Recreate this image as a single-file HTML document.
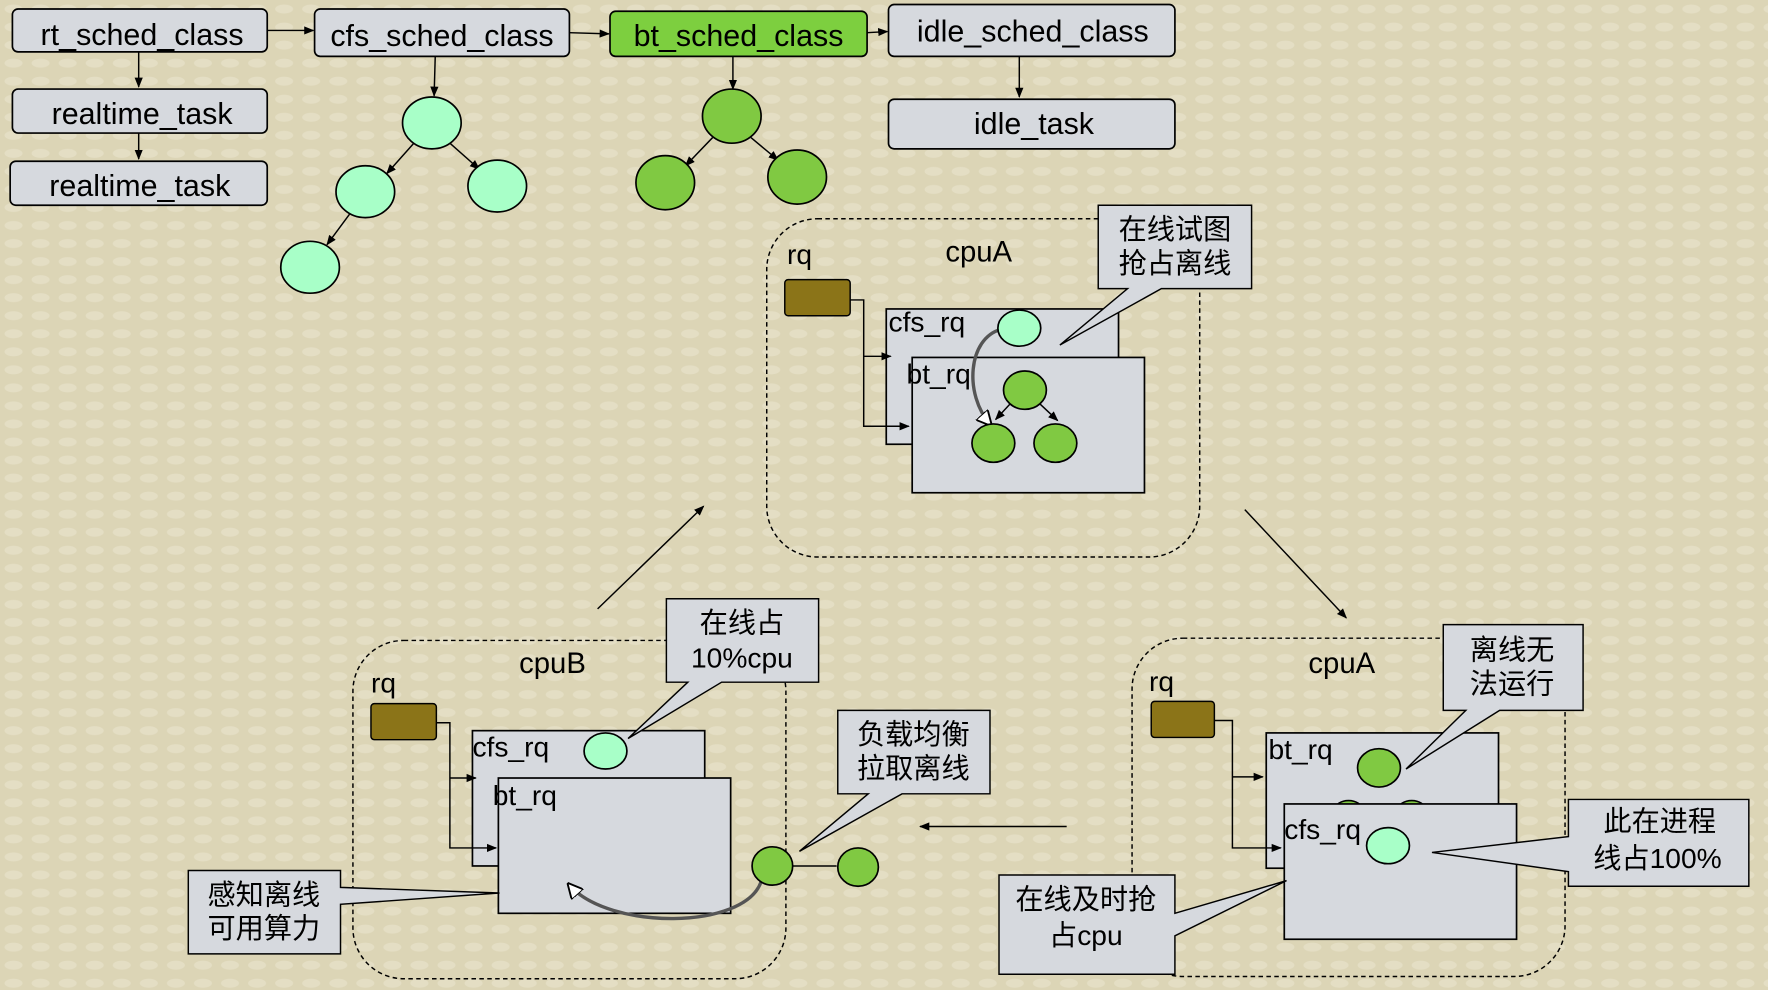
<!DOCTYPE html>
<html><head><meta charset="utf-8"><style>
html,body{margin:0;padding:0;background:#ddd6b8;}
svg{display:block}
text{font-family:"Liberation Sans","Noto Sans CJK SC",sans-serif;fill:#000}
</style></head><body>
<svg width="1768" height="990" viewBox="0 0 1568 878" xmlns="http://www.w3.org/2000/svg">
<defs>
<marker id="a" viewBox="0 0 10 10" refX="9" refY="5" markerWidth="7" markerHeight="7" orient="auto-start-reverse"><path d="M0,1 L10,5 L0,9 z" fill="#000"/></marker>
<marker id="b" viewBox="0 0 10 10" refX="8" refY="5" markerWidth="14" markerHeight="14" markerUnits="userSpaceOnUse" orient="auto"><path d="M0,0 L10,5 L0,10 z" fill="#fff" stroke="#000" stroke-width="1.2"/></marker>
<pattern id="bg" width="24" height="16" patternUnits="userSpaceOnUse"><rect width="24" height="16" fill="#dcd5b6"/><ellipse cx="12" cy="8" rx="8" ry="4" fill="#e4dec4"/></pattern>
</defs>
<rect width="1568" height="878" fill="url(#bg)"/>
<g stroke="#000" stroke-width="1.5" fill="#d6d9de">
<rect x="11" y="8" width="226" height="38" rx="5"/>
<rect x="279" y="8" width="226" height="42" rx="5"/>
<rect x="541" y="10" width="228" height="40" rx="5" fill="#7dcf3f"/>
<rect x="788" y="4" width="254" height="46" rx="5"/>
<rect x="11" y="79" width="226" height="39" rx="5"/>
<rect x="9" y="143" width="228" height="39" rx="5"/>
<rect x="788" y="88" width="254" height="44" rx="5"/>
</g>
<g font-size="27" text-anchor="middle">
<text x="126" y="40">rt_sched_class</text>
<text x="392" y="41">cfs_sched_class</text>
<text x="655" y="41">bt_sched_class</text>
<text x="916" y="37">idle_sched_class</text>
<text x="126" y="110">realtime_task</text>
<text x="124" y="174">realtime_task</text>
<text x="917" y="119">idle_task</text>
</g>
<g stroke="#000" stroke-width="1.3" fill="none" marker-end="url(#a)">
<line x1="237" y1="27" x2="278" y2="27"/>
<line x1="505" y1="29" x2="540" y2="30"/>
<line x1="769" y1="29" x2="787" y2="28"/>
<line x1="123" y1="46" x2="123" y2="77"/>
<line x1="123" y1="118" x2="123" y2="141"/>
<line x1="386" y1="50" x2="385" y2="85"/>
<line x1="650" y1="50" x2="650" y2="79"/>
<line x1="904" y1="50" x2="904" y2="86"/>
<line x1="367" y1="127" x2="343" y2="154"/>
<line x1="399" y1="127" x2="425" y2="150"/>
<line x1="310" y1="190" x2="290" y2="217"/>
<line x1="632" y1="122" x2="608" y2="147"/>
<line x1="666" y1="122" x2="690" y2="142"/>
<line x1="530" y1="540" x2="624" y2="449"/>
<line x1="1104" y1="452" x2="1194" y2="548"/>
<line x1="946" y1="733" x2="816" y2="733"/>
</g>
<g stroke="#000" stroke-width="1.5">
<ellipse cx="383" cy="109" rx="26" ry="23" fill="#a8ffc8"/>
<ellipse cx="324" cy="170" rx="26" ry="23" fill="#a8ffc8"/>
<ellipse cx="441" cy="165" rx="26" ry="23" fill="#a8ffc8"/>
<ellipse cx="275" cy="237" rx="26" ry="23" fill="#a8ffc8"/>
<ellipse cx="649" cy="103" rx="26" ry="24" fill="#80c942"/>
<ellipse cx="590" cy="162" rx="26" ry="24" fill="#80c942"/>
<ellipse cx="707" cy="157" rx="26" ry="24" fill="#80c942"/>
</g>
<g fill="none" stroke="#000" stroke-width="1.3" stroke-dasharray="4,3">
<rect x="680" y="194" width="384" height="300" rx="45"/>
<rect x="313" y="568" width="384" height="300" rx="45"/>
<rect x="1004" y="566" width="384" height="300" rx="45"/>
</g>
<g font-size="26" text-anchor="middle">
<text x="868" y="232">cpuA</text>
<text x="490" y="597">cpuB</text>
<text x="1190" y="597">cpuA</text>
</g>
<g font-size="25">
<text x="698" y="234">rq</text>
<text x="329" y="614">rq</text>
<text x="1019" y="613">rq</text>
</g>
<g stroke="#000" stroke-width="1.3" fill="#8b7418">
<rect x="696" y="248" width="58" height="32" rx="3"/>
<rect x="329" y="624" width="58" height="32" rx="3"/>
<rect x="1021" y="622" width="56" height="32" rx="3"/>
</g>
<g stroke="#000" stroke-width="1.5" fill="#d6d9de">
<rect x="786" y="274" width="206" height="120"/>
<rect x="809" y="317" width="206" height="120"/>
</g>
<g fill="none" stroke="#000" stroke-width="1.3">
<polyline points="754,266 766,266 766,378 806,378" marker-end="url(#a)"/>
<polyline points="766,316 790,316" marker-end="url(#a)"/>
<line x1="897" y1="357" x2="883" y2="372" marker-end="url(#a)"/>
<line x1="921" y1="357" x2="938" y2="373" marker-end="url(#a)"/>
<path d="M888,292 C858,300 855,350 878,376" stroke="#555" stroke-width="3" marker-end="url(#b)"/>
</g>
<g font-size="25"><text x="788" y="294">cfs_rq</text><text x="804" y="340">bt_rq</text></g>
<g stroke="#000" stroke-width="1.5">
<ellipse cx="904" cy="291" rx="19" ry="16" fill="#a8ffc8"/>
<ellipse cx="909" cy="346" rx="19" ry="17" fill="#80c942"/>
<ellipse cx="881" cy="393" rx="19" ry="17" fill="#80c942"/>
<ellipse cx="936" cy="393" rx="19" ry="17" fill="#80c942"/>
</g>
<g stroke="#000" stroke-width="1.5" fill="#d6d9de">
<rect x="419" y="648" width="206" height="120"/>
<rect x="442" y="690" width="206" height="120"/>
</g>
<g fill="none" stroke="#000" stroke-width="1.3">
<polyline points="387,641 399,641 399,752 440,752" marker-end="url(#a)"/>
<polyline points="399,690 422,690" marker-end="url(#a)"/>
<line x1="703" y1="768" x2="742" y2="768"/>
<path d="M675,782 C660,825 540,825 505,785" stroke="#555" stroke-width="3" marker-end="url(#b)"/>
</g>
<g font-size="25"><text x="419" y="671">cfs_rq</text><text x="437" y="714">bt_rq</text></g>
<g stroke="#000" stroke-width="1.5">
<ellipse cx="537" cy="666" rx="19" ry="16" fill="#a8ffc8"/>
<ellipse cx="685" cy="768" rx="18" ry="17" fill="#80c942"/>
<ellipse cx="761" cy="769" rx="18" ry="17" fill="#80c942"/>
</g>
<g stroke="#000" stroke-width="1.5" fill="#d6d9de">
<rect x="1123" y="650" width="206" height="120"/>
<ellipse cx="1223" cy="681" rx="19" ry="17" fill="#80c942"/>
<ellipse cx="1196" cy="718" rx="12" ry="8" fill="#80c942"/>
<ellipse cx="1252" cy="718" rx="12" ry="8" fill="#80c942"/>
<rect x="1139" y="713" width="206" height="120"/>
</g>
<g fill="none" stroke="#000" stroke-width="1.3">
<polyline points="1077,639 1093,639 1093,752 1136,752" marker-end="url(#a)"/>
<polyline points="1093,689 1120,689" marker-end="url(#a)"/>
</g>
<g font-size="25"><text x="1125" y="673">bt_rq</text><text x="1139" y="744">cfs_rq</text></g>
<ellipse cx="1231" cy="750" rx="19" ry="16" fill="#a8ffc8" stroke="#000" stroke-width="1.5"/>
<g stroke="#000" stroke-width="1.3" fill="#d6d9de">
<path d="M974,182 H1110 V256 H1030 L940,306 L1000,256 H974 Z"/>
<path d="M591,531 H726 V605 H640 L557,655 L610,605 H591 Z"/>
<path d="M743,630 H878 V704 H800 L709,755 L770,704 H743 Z"/>
<path d="M167,772 H302 V787 L443,792 L302,802 V846 H167 Z"/>
<path d="M1280,554 H1404 V630 H1330 L1247,682 L1300,630 H1280 Z"/>
<path d="M1391,709 H1551 V786 H1391 V773 L1270,756 L1391,742 Z"/>
<path d="M886,776 H1042 V810 L1141,781 L1042,830 V864 H886 Z"/>
</g>
<g font-size="25" text-anchor="middle">
<text x="1042" y="212">在线试图</text><text x="1042" y="242">抢占离线</text>
<text x="658" y="561">在线占</text><text x="658" y="592">10%cpu</text>
<text x="810" y="660">负载均衡</text><text x="810" y="690">拉取离线</text>
<text x="234" y="802">感知离线</text><text x="234" y="832">可用算力</text>
<text x="1341" y="585">离线无</text><text x="1341" y="615">法运行</text>
<text x="1472" y="737">此在进程</text><text x="1470" y="770">线占100%</text>
<text x="963" y="806">在线及时抢</text><text x="963" y="838">占cpu</text>
</g>
</svg>
</body></html>
